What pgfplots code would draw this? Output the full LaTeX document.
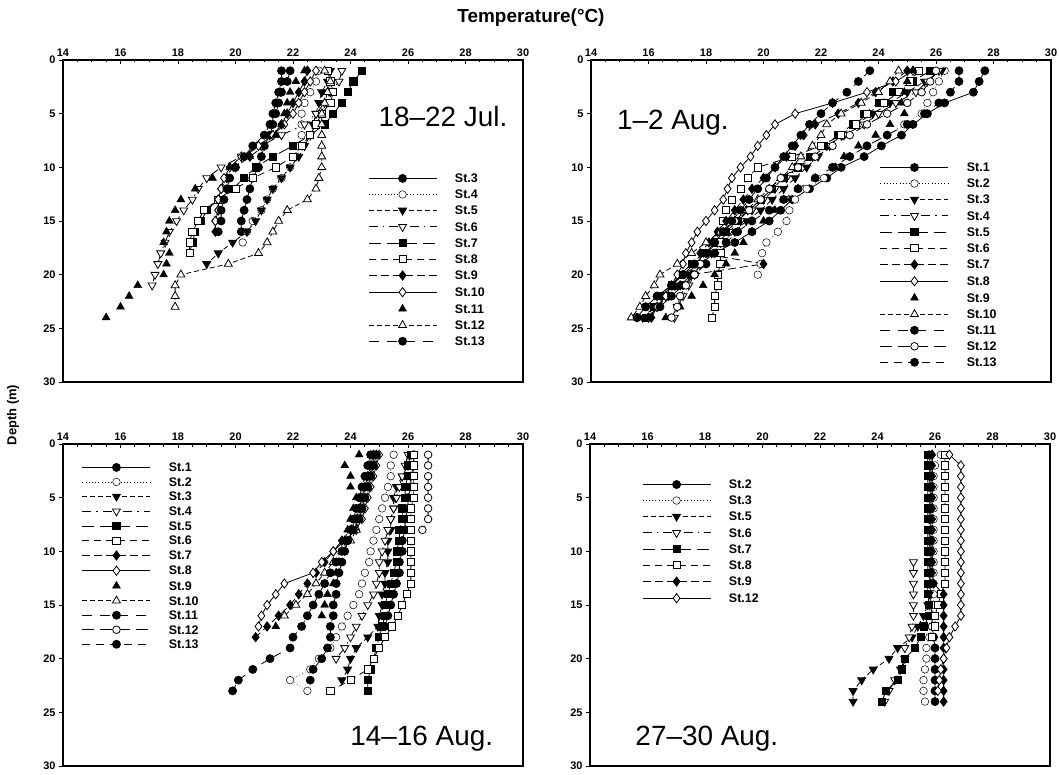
\documentclass[border=0pt]{standalone}
\usepackage{pgfplots}
\usepackage{pgfplotstable}
\usepackage{fontspec}
\setmainfont{Liberation Sans}
\pgfplotsset{compat=1.18}

% temperature (deg C) against depth (m), one column per station
\pgfplotstableread{
d  St3  St4   St5  St6   St7  St8  St9  St10 St11 St12  St13
1  21.6 22.9  23.3 23.7  24.4 23.2 22.5 22.8 22.4 23.1  21.9
2  21.6 22.8  23.2 23.6  24.1 23.3 22.4 22.6 22.1 23.3  21.8
3  21.5 22.6  23.0 23.3  23.9 23.4 22.2 22.4 21.9 23.2  21.6
4  21.4 22.4  22.9 23.1  23.7 23.3 22.0 22.2 21.8 23.1  21.5
5  21.3 22.3  22.8 22.8  23.4 23.0 21.8 22.0 21.7 23.0  21.4
6  21.3 22.3  22.7 22.4  23.1 22.8 21.6 21.7 21.6 23.0  21.2
7  21.2 22.3  22.6 21.6  22.6 22.6 21.3 21.3 21.4 23.0  21.0
8  21.0 22.2  22.4 20.9  22.0 22.3 21.0 20.8 21.0 23.0  20.6
9  20.9 22.1  22.2 20.2  21.3 22.0 20.5 20.2 20.5 23.0  20.3
10 20.8 21.9  21.9 19.5  20.7 21.4 20.0 19.8 19.8 23.0  20.0
11 20.6 21.6  21.6 19.0  20.3 20.6 19.7 19.6 19.2 22.9  19.8
12 20.5 21.3  21.3 18.7  19.9 20.0 19.5 19.5 18.6 22.8  19.7
13 20.4 21.1  21.1 18.5  19.4 19.4 19.4 19.4 18.1 22.5  19.6
14 20.3 20.9  20.9 18.2  19.0 18.9 19.4 19.4 17.9 21.8  19.5
15 20.2 20.6  20.7 17.95 18.8 18.7 19.3 19.3 17.7 21.5  19.5
16 20.2 20.4  20.4 17.7  18.6 18.5 19.3 nan  17.6 21.3  19.4
17 nan  20.25 19.9 17.55 18.5 18.4 nan  nan  17.5 21.1  nan
18 nan  nan   19.4 17.4  18.4 18.4 nan  nan  17.7 20.8  nan
19 nan  nan   19.0 17.3  nan  nan  nan  nan  17.6 19.75 nan
20 nan  nan   nan  17.2  nan  nan  nan  nan  17.5 18.1  nan
21 nan  nan   nan  17.1  nan  nan  nan  nan  16.6 17.9  nan
22 nan  nan   nan  nan   nan  nan  nan  nan  16.3 17.9  nan
23 nan  nan   nan  nan   nan  nan  nan  nan  16.0 17.9  nan
24 nan  nan   nan  nan   nan  nan  nan  nan  15.5 nan   nan
}\julA

\pgfplotstableread{
d  St1  St2   St3  St4  St5  St6   St7  St8   St9  St10 St11 St12 St13
1  27.7 26.3  26.2 26.1 25.8 25.4  25.0 25.2  25.2 24.7 26.8 26.0 23.7
2  27.5 26.1  25.6 25.7 25.2 25.1  24.5 24.6  25.0 24.4 26.8 25.8 23.3
3  27.3 25.9  25.0 25.3 24.5 24.7  23.9 23.6  24.9 24.0 26.5 25.5 22.9
4  26.3 25.7  24.4 24.6 24.0 24.2  23.3 22.4  24.8 23.4 26.1 25.0 22.4
5  25.7 25.5  23.8 24.0 23.5 23.6  22.6 21.1  24.9 22.7 25.6 24.3 22.0
6  25.2 24.9  23.2 23.5 23.1 23.2  21.8 20.4  24.4 22.2 25.0 23.6 21.6
7  24.8 24.3  22.7 22.8 22.6 22.7  21.4 20.1  23.9 22.0 24.3 23.0 21.3
8  24.1 23.6  22.3 22.2 22.1 22.0  21.1 19.8  23.3 21.7 23.6 22.4 21.0
9  23.5 23.0  21.9 21.7 21.6 21.0  20.8 19.55 22.8 21.3 23.0 21.8 20.7
10 22.7 22.5  21.5 21.2 21.2 19.8  20.4 19.2  22.5 21.0 22.4 21.2 20.4
11 22.2 22.1  21.1 20.8 20.7 19.45 20.0 18.9  21.8 20.6 21.8 20.6 20.1
12 21.6 21.5  20.7 20.4 20.3 19.2  19.6 18.75 21.2 20.2 21.2 20.2 19.8
13 21.0 21.1  20.3 20.0 19.9 18.9  19.3 18.6  20.7 19.8 20.7 19.9 19.5
14 20.6 20.9  19.9 19.6 19.5 18.7  19.0 18.3  20.4 19.4 20.2 19.5 19.2
15 20.2 20.8  19.4 19.2 19.1 18.6  18.7 18.0  20.0 19.0 19.6 19.0 18.9
16 19.6 20.5  19.0 18.8 18.7 18.5  18.4 17.7  19.6 18.5 19.1 18.6 18.6
17 19.0 20.1  18.6 18.4 18.3 18.5  18.1 17.5  19.3 18.0 18.7 18.3 18.3
18 18.3 19.95 18.2 18.0 17.9 18.5  17.8 17.3  19.0 17.5 18.3 18.0 18.0
19 17.8 19.9  17.8 17.8 17.5 18.5  20.0 17.2  18.7 17.0 18.0 17.8 17.6
20 17.2 19.8  17.4 17.6 17.1 18.4  17.5 17.0  18.3 16.4 17.6 17.6 17.2
21 16.8 nan   17.0 17.4 16.8 18.4  17.1 16.8  17.9 16.2 17.2 17.3 16.8
22 16.3 nan   16.6 17.2 16.5 18.3  16.7 16.6  17.5 15.9 16.8 17.1 16.3
23 15.9 nan   16.2 17.0 16.2 18.3  16.3 16.3  17.1 15.7 16.4 17.0 15.9
24 15.6 nan   15.8 16.9 15.9 18.2  16.1 16.0  16.6 15.4 16.0 16.8 15.6
}\augA

\pgfplotstableread{
d  St1  St2   St3   St4  St5  St6   St7  St8  St9  St10 St11 St12 St13
1  26.2 25.5  26.1  26.0 26.1 26.2  24.8 25.0 24.3 24.9 24.7 26.7 24.9
2  26.2 25.4  26.0  25.9 26.0 26.2  24.7 24.9 23.8 24.8 24.6 26.7 24.8
3  26.1 25.4  25.8  25.8 26.0 26.2  24.6 24.8 24.0 24.7 24.5 26.7 24.7
4  26.1 25.3  25.6  25.7 25.9 26.2  24.5 24.7 24.0 24.6 24.4 26.7 24.6
5  26.0 25.2  25.5  25.6 25.9 26.2  24.4 24.6 24.2 24.5 24.3 26.7 24.5
6  26.0 25.1  25.5  25.5 25.8 26.1  24.3 24.5 24.1 24.4 24.2 26.7 24.4
7  25.9 25.0  25.4  25.4 25.8 26.1  24.2 24.4 24.0 24.3 24.1 26.7 24.3
8  25.9 24.9  25.4  25.3 25.7 26.1  24.0 24.2 23.9 24.2 24.0 26.5 24.1
9  25.8 24.8  25.3  25.2 25.7 26.1  23.7 23.8 23.8 24.0 23.9 nan  23.9
10 25.8 24.7  25.3  25.1 25.6 26.1  23.4 23.4 23.7 23.7 23.8 nan  23.7
11 25.7 24.65 25.3  25.0 25.6 26.1  23.1 23.0 23.6 23.4 23.7 nan  23.5
12 25.7 24.5  25.2  25.0 25.5 26.1  22.8 22.7 23.5 23.1 23.6 nan  23.3
13 25.6 24.4  25.2  24.9 25.4 26.1  22.5 21.7 23.4 22.8 23.5 nan  23.1
14 25.5 24.3  25.1  24.8 25.3 25.95 22.2 21.4 23.2 22.5 23.5 nan  22.9
15 25.4 24.1  25.1  24.6 25.2 25.8  21.9 21.1 23.1 22.1 23.4 nan  22.7
16 25.3 23.9  25.0  24.4 25.2 25.65 21.5 20.9 23.0 21.7 23.4 nan  22.5
17 25.2 23.7  24.95 24.2 25.1 25.45 21.1 20.8 21.4 nan  23.3 nan  22.3
18 nan  23.5  24.6  24.0 25.0 25.2  20.7 nan  nan  nan  23.3 nan  22.0
19 nan  23.3  24.2  23.8 24.9 25.0  nan  nan  nan  nan  23.2 nan  21.9
20 nan  22.9  24.0  23.5 24.8 24.8  nan  nan  nan  nan  23.0 nan  21.2
21 nan  22.6  23.9  nan  24.7 24.6  nan  nan  nan  nan  22.7 nan  20.6
22 nan  21.9  23.7  nan  24.6 24.0  nan  nan  nan  nan  22.6 nan  20.1
23 nan  22.5  nan   nan  24.6 23.3  nan  nan  nan  nan  nan  nan  19.9
}\augB

\pgfplotstableread{
d  St2   St3   St5   St6   St7   St8   St9   St12
1  25.8  26.2  25.8  nan   25.75 26.35 25.9  26.5
2  25.85 26.0  25.8  nan   25.75 26.35 25.9  26.9
3  25.85 25.95 25.8  nan   25.75 26.35 25.9  26.9
4  25.85 25.95 25.8  nan   25.75 26.35 25.9  26.9
5  25.85 25.95 25.8  nan   25.75 26.35 25.9  26.9
6  25.85 25.95 25.8  nan   25.75 26.35 25.9  26.9
7  25.85 25.95 25.8  nan   25.75 26.35 25.9  26.9
8  25.85 25.95 25.8  nan   25.75 26.35 25.9  26.9
9  25.85 25.95 25.8  nan   25.75 26.35 25.9  26.9
10 25.85 25.95 25.8  nan   25.75 26.35 25.9  26.9
11 25.85 25.95 25.8  25.25 25.75 26.35 25.9  26.9
12 25.85 25.95 25.8  25.25 25.75 26.35 25.9  26.9
13 25.85 25.95 25.8  25.25 25.75 26.35 25.95 26.9
14 25.85 25.95 25.8  25.25 25.75 26.2  26.3  26.9
15 25.85 25.95 25.75 25.25 25.8  26.1  26.3  26.9
16 25.9  25.9  25.6  25.25 25.8  26.0  26.3  26.9
17 25.9  25.9  25.4  25.2  25.6  26.0  26.3  26.7
18 25.95 25.8  25.2  25.1  25.5  25.9  26.3  26.5
19 26.0  25.7  24.7  24.95 25.3  nan   26.3  26.4
20 26.0  25.7  24.4  24.95 24.96 nan   26.3  26.3
21 26.0  25.65 23.85 24.8  24.85 nan   26.3  26.2
22 26.0  25.6  23.45 24.6  24.7  nan   26.3  26.15
23 26.0  25.6  23.15 24.4  24.3  nan   26.3  26.1
24 26.0  25.65 23.15 24.25 24.15 nan   26.3  nan
}\augC

\pgfplotsset{
  panel/.style={
    scale only axis, width=460bp, height=322bp,
    xmin=14, xmax=30, ymin=0, ymax=30, y dir=reverse,
    xtick={14,16,...,30}, ytick={0,5,...,30},
    minor x tick num=3,
    xtick pos=right, xticklabel pos=right, ytick pos=left,
    xtick align=inside, ytick align=outside,
    major tick length=4bp, minor tick length=2.5bp,
    every tick/.style={black, line width=0.8bp},
    axis line style={line width=1.1bp},
    ticklabel style={font=\bfseries\fontsize{11}{12}\selectfont},
    /pgf/number format/assume math mode=true,
    unbounded coords=discard,
    clip=false,
    legend cell align=left,
    legend style={draw=none, fill=none, inner sep=0pt, column sep=18bp,
      anchor=north west,
      nodes={inner sep=0pt, text height=8.5bp, text depth=0pt,
        font=\bfseries\fontsize{12.5}{13}\selectfont}},
    legend image code/.code={\draw[mark repeat=2,mark phase=2,##1]
      plot coordinates {(0bp,0bp)(34bp,0bp)(68bp,0bp)};},
  },
  s1/.style={black, line width=0.8bp, solid, mark=*, mark size=4bp,
    mark options={solid, fill=black}},
  s2/.style={black, line width=0.5bp, dash pattern=on 0.6bp off 2.6bp,
    mark=*, mark size=3.8bp, mark options={solid, fill=white}},
  s3/.style={black, line width=0.8bp, dash pattern=on 5bp off 3bp,
    mark=triangle*, mark size=4.6bp, mark options={solid, fill=black, rotate=180}},
  s4/.style={black, line width=0.8bp, dash pattern=on 9bp off 5bp on 1.5bp off 5bp,
    mark=triangle*, mark size=4.6bp, mark options={solid, fill=white, rotate=180}},
  s5/.style={black, line width=0.8bp, dash pattern=on 12bp off 6bp,
    mark=square*, mark size=3.6bp, mark options={solid, fill=black}},
  s6/.style={black, line width=0.8bp, dash pattern=on 7bp off 5bp,
    mark=square*, mark size=3.6bp, mark options={solid, fill=white}},
  s7/.style={black, line width=0.8bp, dash pattern=on 8bp off 4bp,
    mark=diamond*, mark size=4.6bp, mark options={solid, fill=black}},
  s8/.style={black, line width=0.8bp, solid,
    mark=diamond*, mark size=4.6bp, mark options={solid, fill=white}},
  s9/.style={black, only marks, mark=triangle*, mark size=4.6bp,
    mark options={solid, fill=black}},
  s10/.style={black, line width=0.8bp, dash pattern=on 5bp off 3bp,
    mark=triangle*, mark size=4.6bp, mark options={solid, fill=white}},
  s11/.style={black, line width=0.8bp, dash pattern=on 10bp off 8bp,
    mark=*, mark size=4bp, mark options={solid, fill=black}},
  s12/.style={black, line width=0.8bp, dash pattern=on 12bp off 6bp,
    mark=*, mark size=3.8bp, mark options={solid, fill=white}},
  s13/.style={black, line width=0.8bp, dash pattern=on 8bp off 6bp,
    mark=*, mark size=4bp, mark options={solid, fill=black}},
}

\begin{document}
\begin{tikzpicture}
\useasboundingbox (0,0) rectangle (1059bp,775bp);

\node[font=\bfseries\fontsize{19}{20}\selectfont] at (531bp,757bp) {Temperature(°C)};
\node[font=\bfseries\fontsize{13}{14}\selectfont, rotate=90] at (13bp,360bp) {Depth (m)};

% 18-22 Jul.
\begin{axis}[panel, at={(63bp,715bp)}, anchor=north west,
  legend style={at={(axis description cs:0.663,0.646)}, row sep=7.5bp}]
  \addplot[s1]  table[x=St3,  y=d] {\julA}; \addlegendentry{St.3}
  \addplot[s2]  table[x=St4,  y=d] {\julA}; \addlegendentry{St.4}
  \addplot[s3]  table[x=St5,  y=d] {\julA}; \addlegendentry{St.5}
  \addplot[s4]  table[x=St6,  y=d] {\julA}; \addlegendentry{St.6}
  \addplot[s5]  table[x=St7,  y=d] {\julA}; \addlegendentry{St.7}
  \addplot[s6]  table[x=St8,  y=d] {\julA}; \addlegendentry{St.8}
  \addplot[s7]  table[x=St9,  y=d] {\julA}; \addlegendentry{St.9}
  \addplot[s8]  table[x=St10, y=d] {\julA}; \addlegendentry{St.10}
  \addplot[s9]  table[x=St11, y=d] {\julA}; \addlegendentry{St.11}
  \addplot[s10] table[x=St12, y=d] {\julA}; \addlegendentry{St.12}
  \addplot[s11] table[x=St13, y=d] {\julA}; \addlegendentry{St.13}
  \node[font=\fontsize{28}{30}\selectfont, anchor=base] at (axis description cs:0.826,0.792) {18–22 Jul.};
\end{axis}

% 1-2 Aug.
\begin{axis}[panel, at={(591bp,715bp)}, anchor=north west,
  legend style={at={(axis description cs:0.628,0.68)}, row sep=7.5bp}]
  \addplot[s1]  table[x=St1,  y=d] {\augA}; \addlegendentry{St.1}
  \addplot[s2]  table[x=St2,  y=d] {\augA}; \addlegendentry{St.2}
  \addplot[s3]  table[x=St3,  y=d] {\augA}; \addlegendentry{St.3}
  \addplot[s4]  table[x=St4,  y=d] {\augA}; \addlegendentry{St.4}
  \addplot[s5]  table[x=St5,  y=d] {\augA}; \addlegendentry{St.5}
  \addplot[s6]  table[x=St6,  y=d] {\augA}; \addlegendentry{St.6}
  \addplot[s7]  table[x=St7,  y=d] {\augA}; \addlegendentry{St.7}
  \addplot[s8]  table[x=St8,  y=d] {\augA}; \addlegendentry{St.8}
  \addplot[s9]  table[x=St9,  y=d] {\augA}; \addlegendentry{St.9}
  \addplot[s10] table[x=St10, y=d] {\augA}; \addlegendentry{St.10}
  \addplot[s11] table[x=St11, y=d] {\augA}; \addlegendentry{St.11}
  \addplot[s12] table[x=St12, y=d] {\augA}; \addlegendentry{St.12}
  \addplot[s13] table[x=St13, y=d] {\augA}; \addlegendentry{St.13}
  \node[font=\fontsize{28}{30}\selectfont, anchor=base] at (axis description cs:0.178,0.783) {1–2 Aug.};
\end{axis}

% 14-16 Aug.
\begin{axis}[panel, at={(63bp,331bp)}, anchor=north west,
  legend style={at={(axis description cs:0.041,0.941)}, row sep=6bp}]
  \addplot[s1]  table[x=St1,  y=d] {\augB}; \addlegendentry{St.1}
  \addplot[s2]  table[x=St2,  y=d] {\augB}; \addlegendentry{St.2}
  \addplot[s3]  table[x=St3,  y=d] {\augB}; \addlegendentry{St.3}
  \addplot[s4]  table[x=St4,  y=d] {\augB}; \addlegendentry{St.4}
  \addplot[s5]  table[x=St5,  y=d] {\augB}; \addlegendentry{St.5}
  \addplot[s6]  table[x=St6,  y=d] {\augB}; \addlegendentry{St.6}
  \addplot[s7]  table[x=St7,  y=d] {\augB}; \addlegendentry{St.7}
  \addplot[s8]  table[x=St8,  y=d] {\augB}; \addlegendentry{St.8}
  \addplot[s9]  table[x=St9,  y=d] {\augB}; \addlegendentry{St.9}
  \addplot[s10] table[x=St10, y=d] {\augB}; \addlegendentry{St.10}
  \addplot[s11] table[x=St11, y=d] {\augB}; \addlegendentry{St.11}
  \addplot[s12] table[x=St12, y=d] {\augB}; \addlegendentry{St.12}
  \addplot[s13] table[x=St13, y=d] {\augB}; \addlegendentry{St.13}
  \node[font=\fontsize{28}{30}\selectfont, anchor=base] at (axis description cs:0.780,0.065) {14–16 Aug.};
\end{axis}

% 27-30 Aug.
\begin{axis}[panel, at={(590bp,331bp)}, anchor=north west,
  legend style={at={(axis description cs:0.113,0.888)}, row sep=7.5bp}]
  \addplot[s1] table[x=St2,  y=d] {\augC}; \addlegendentry{St.2}
  \addplot[s2] table[x=St3,  y=d] {\augC}; \addlegendentry{St.3}
  \addplot[s3] table[x=St5,  y=d] {\augC}; \addlegendentry{St.5}
  \addplot[s4] table[x=St6,  y=d] {\augC}; \addlegendentry{St.6}
  \addplot[s5] table[x=St7,  y=d] {\augC}; \addlegendentry{St.7}
  \addplot[s6] table[x=St8,  y=d] {\augC}; \addlegendentry{St.8}
  \addplot[s7] table[x=St9,  y=d] {\augC}; \addlegendentry{St.9}
  \addplot[s8] table[x=St12, y=d] {\augC}; \addlegendentry{St.12}
  \node[font=\fontsize{28}{30}\selectfont, anchor=base] at (axis description cs:0.254,0.065) {27–30 Aug.};
\end{axis}
\end{tikzpicture}
\end{document}
